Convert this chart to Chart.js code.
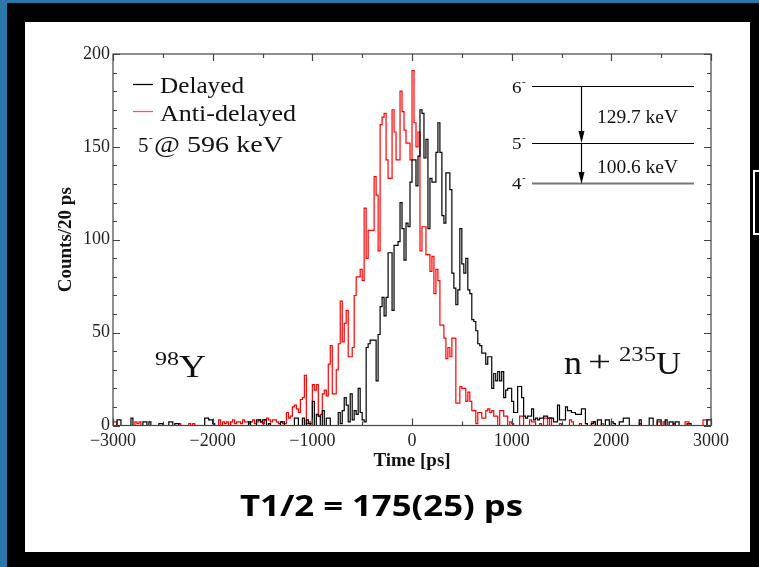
<!DOCTYPE html>
<html>
<head>
<meta charset="utf-8">
<script src="https://cdn.jsdelivr.net/npm/chart.js@4.4.1/dist/chart.umd.min.js"></script>
<style>
  html, body { margin: 0; padding: 0; background: #2a78aa; overflow: hidden; }
  .warm { position: absolute; left: -999px; top: 0; }
</style>
</head>
<body>
<canvas id="timing" width="759" height="567"></canvas>
<div class="warm" style="font-family: 'Liberation Serif'">Delayed 0123</div>
<div class="warm" style="font-family: 'Liberation Serif'; font-weight: bold">Counts</div>
<div class="warm" style="font-family: 'Open Sans'; font-weight: bold">T1/2</div>
<script>
// 20 ps bins from -3000 to 3000 ps
const binWidth = 20;
const timeMin = -3000;
const timeMax = 3000;
const xTicks = [-3000, -2000, -1000, 0, 1000, 2000, 3000];
const yTicks = [0, 50, 100, 150, 200];

// counts per bin
const delayed = [
  0,0,3,3,0,0,0,0,0,4,  0,0,0,0,0,2,2,0,2,0,  0,0,0,1,1,0,0,0,2,2,  0,1,1,0,0,0,0,0,0,0,
  0,0,0,0,0,0,4,4,3,3,  1,0,0,0,0,0,0,0,0,0,  0,0,0,0,0,0,0,0,2,0,  0,0,3,3,2,3,3,0,1,0,
  0,0,0,0,2,2,0,0,0,0,  0,4,4,0,0,4,0,3,1,0,  13,0,6,5,0,8,0,4,4,0,  0,0,0,7,1,8,15,11,2,17,
  3,8,6,20,7,3,2,42,44,46,  46,46,24,49,64,69,59,69,93,93,  62,97,97,99,120,106,89,109,107,131,
  143,143,129,145,170,168,144,154,106,133,  131,131,147,163,147,113,109,136,136,127,
  82,74,65,73,106,87,82,90,73,71,  57,56,51,44,43,39,39,33,37,37,  20,28,24,29,24,29,15,19,20,20,
  13,7,7,21,21,15,5,4,5,5,  9,3,4,3,4,4,5,5,4,4,  4,2,2,11,3,3,3,10,8,8,  7,7,6,6,6,9,9,1,0,0,
  1,2,0,3,3,0,0,3,3,0,  2,1,0,0,2,2,4,4,4,0,  0,0,0,0,3,0,0,0,0,4,  4,0,0,3,3,0,0,3,0,2,
  2,0,2,2,0,0,0,0,1,1,  0,0,0,0,0,0,0,0,3,3
];
const antiDelayed = [
  2,2,0,0,0,0,0,0,0,0,  0,2,1,2,0,0,0,0,0,0,  0,0,0,0,0,0,0,0,0,0,  0,0,0,1,0,0,0,0,1,0,
  1,0,0,0,0,0,0,0,0,0,  0,0,0,3,0,2,1,2,0,2,  3,1,2,2,1,3,2,2,1,2,  3,1,2,3,2,1,3,4,3,2,
  3,3,2,1,2,1,1,7,4,5,  10,11,9,7,14,15,27,1,2,1,  22,19,22,5,6,17,19,16,33,43,
  17,17,30,44,67,45,55,62,37,37,  42,70,80,80,84,78,117,90,105,105,
  105,134,124,94,162,166,168,143,133,133,  170,158,143,143,180,169,159,152,152,143,
  191,163,150,158,94,107,107,92,92,83,  91,71,84,78,54,54,47,36,42,37,
  47,47,12,12,21,20,20,13,18,13,  8,8,1,7,7,4,4,8,9,7,  8,5,5,0,8,8,5,5,0,2,
  1,0,0,0,5,5,0,0,0,3,  2,2,0,0,1,0,4,4,0,4,  0,0,0,0,1,0,0,0,0,3,  2,0,0,0,1,0,0,0,0,0,
  2,2,0,0,0,1,0,0,0,0,  0,0,0,0,0,0,0,0,0,0,  0,0,0,0,1,0,0,0,0,0,  0,0,0,2,2,0,2,0,0,0,
  0,1,0,0,0,0,0,2,2,0,  0,0,0,0,0,0,3,3,0,0
];

// histogram outline: one point per bin left edge plus the closing edge
const toPoints = (counts) => {
  const pts = counts.map((c, i) => ({ x: timeMin + i * binWidth, y: c }));
  pts.push({ x: timeMax, y: counts[counts.length - 1] });
  return pts;
};

const serif = "'Liberation Serif', serif";

// draw text, stretched horizontally like the original scan
const label = (ctx, text, x, y, size, opts = {}) => {
  ctx.save();
  ctx.font = `${opts.bold ? 'bold ' : ''}${size}px ${opts.family || serif}`;
  ctx.fillStyle = opts.color || '#111';
  ctx.textBaseline = 'alphabetic';
  ctx.textAlign = 'left';
  const w = ctx.measureText(text).width;
  const sx = opts.width ? opts.width / w : (opts.stretch || 1.12);
  ctx.translate(x, y);
  ctx.scale(sx, 1);
  ctx.fillText(text, 0, 0);
  ctx.restore();
  return x + w * sx;
};

const page = {
  id: 'page',
  beforeDraw(chart) {
    const { ctx, width, height } = chart;
    ctx.save();
    ctx.fillStyle = '#2a78aa';
    ctx.fillRect(0, 0, width, height);
    ctx.fillStyle = '#000';
    ctx.fillRect(7, 3, width - 7, height - 3);
    ctx.fillStyle = '#fff';
    ctx.fillRect(25, 22, 725, 530);
    // small white bracket at the right edge
    ctx.strokeStyle = '#fff';
    ctx.lineWidth = 2;
    ctx.beginPath();
    ctx.moveTo(759, 171); ctx.lineTo(754, 171); ctx.lineTo(754, 234); ctx.lineTo(759, 234);
    ctx.stroke();
    ctx.restore();
  },
  afterDatasetsDraw(chart) {
    const { ctx, chartArea: a, scales: { x, y } } = chart;
    ctx.save();
    ctx.strokeStyle = '#444';
    ctx.lineWidth = 1.2;
    ctx.strokeRect(a.left, a.top, a.right - a.left, a.bottom - a.top);
    ctx.beginPath();
    for (let v = timeMin; v <= timeMax; v += 500) {
      const px = Math.round(x.getPixelForValue(v)) + 0.5;
      const len = v % 1000 === 0 ? 7 : 4;
      ctx.moveTo(px, a.bottom); ctx.lineTo(px, a.bottom - len);
      ctx.moveTo(px, a.top); ctx.lineTo(px, a.top + len);
    }
    for (let v = 0; v <= 200; v += 10) {
      const py = Math.round(y.getPixelForValue(v)) + 0.5;
      const len = v % 50 === 0 ? 7 : 4;
      ctx.moveTo(a.left, py); ctx.lineTo(a.left + len, py);
      ctx.moveTo(a.right, py); ctx.lineTo(a.right - len, py);
    }
    ctx.stroke();
    ctx.restore();
  },
  afterDraw(chart) {
    const { ctx } = chart;
    const ds = chart.data.datasets;

    // legend inside the frame
    ctx.save();
    ctx.lineWidth = 1.3;
    ctx.strokeStyle = ds[0].borderColor;
    ctx.beginPath(); ctx.moveTo(133, 84.5); ctx.lineTo(153, 84.5); ctx.stroke();
    ctx.strokeStyle = '#ff5555';
    ctx.beginPath(); ctx.moveTo(133, 111.5); ctx.lineTo(153, 111.5); ctx.stroke();
    ctx.restore();
    label(ctx, ds[0].label, 160, 92.5, 23, { width: 84 });
    label(ctx, ds[1].label, 160, 121, 23, { width: 136 });
    label(ctx, '5', 138, 151.5, 21, { stretch: 1 });
    label(ctx, '-', 149, 141, 11, { stretch: 1 });
    label(ctx, '@ 596 keV', 154, 151.5, 23, { width: 129 });

    // level scheme
    ctx.save();
    ctx.strokeStyle = '#000';
    ctx.lineWidth = 1.2;
    ctx.beginPath();
    ctx.moveTo(532, 86.5); ctx.lineTo(694, 86.5);
    ctx.moveTo(532, 143.5); ctx.lineTo(694, 143.5);
    ctx.moveTo(581.5, 87); ctx.lineTo(581.5, 134);
    ctx.moveTo(581.5, 144); ctx.lineTo(581.5, 174);
    ctx.stroke();
    ctx.strokeStyle = '#777';
    ctx.lineWidth = 1.8;
    ctx.beginPath(); ctx.moveTo(532, 183.5); ctx.lineTo(694, 183.5); ctx.stroke();
    ctx.fillStyle = '#000';
    ctx.beginPath(); ctx.moveTo(578.5, 131); ctx.lineTo(584.5, 131); ctx.lineTo(581.5, 143); ctx.closePath(); ctx.fill();
    ctx.beginPath(); ctx.moveTo(578.5, 172); ctx.lineTo(584.5, 172); ctx.lineTo(581.5, 184); ctx.closePath(); ctx.fill();
    ctx.restore();
    const levels = [['6', 92.7], ['5', 149.3], ['4', 188.5]];
    levels.forEach(([spin, base]) => {
      label(ctx, spin, 512, base, 17);
      label(ctx, '-', 522, base - 8, 10);
    });
    label(ctx, '129.7 keV', 597, 122.7, 19, { width: 81 });
    label(ctx, '100.6 keV', 597, 172.7, 19, { width: 81 });

    // nucleus labels
    label(ctx, '98', 155, 365, 19, { width: 24 });
    label(ctx, 'Y', 179, 377, 32, { width: 27 });
    label(ctx, 'n', 564, 374, 34, { width: 18 });
    label(ctx, '+', 588, 371, 30, { width: 23 });
    label(ctx, '235', 619, 361, 20, { width: 37 });
    label(ctx, 'U', 656, 374, 32, { width: 25 });

    // half-life
    label(ctx, 'T1/2 = 175(25) ps', 240, 516, 29,
      { bold: true, family: "'Open Sans', sans-serif", color: '#000', width: 283 });
  }
};

const tickFont = { family: serif, size: 18 };

const draw = () => new Chart(document.getElementById('timing'), {
  type: 'line',
  data: {
    datasets: [
      {
        label: 'Delayed',
        data: toPoints(delayed),
        borderColor: '#000000',
        borderWidth: 1.2,
        stepped: 'before',
        pointRadius: 0,
        fill: false,
      },
      {
        label: 'Anti-delayed',
        data: toPoints(antiDelayed),
        borderColor: '#ff0000',
        borderWidth: 1.2,
        stepped: 'before',
        pointRadius: 0,
        fill: false,
      },
    ],
  },
  options: {
    responsive: false,
    animation: false,
    devicePixelRatio: 1,
    layout: { padding: { left: 0, right: 48, top: 54, bottom: 81.5 } },
    plugins: { legend: { display: false }, tooltip: { enabled: false } },
    scales: {
      x: {
        type: 'linear',
        min: timeMin,
        max: timeMax,
        afterBuildTicks: (s) => { s.ticks = xTicks.map((v) => ({ value: v })); },
        afterFit: (s) => { s.height = 60; },
        grid: { display: false, drawTicks: false },
        border: { display: false },
        ticks: {
          font: tickFont,
          color: '#222',
          padding: 5,
          maxRotation: 0,
          callback: (v) => (v < 0 ? '\u2212' + Math.abs(v) : String(v)),
        },
        title: {
          display: true,
          text: 'Time [ps]',
          color: '#111',
          font: { family: serif, size: 19, weight: 'bold' },
          padding: { top: 0, bottom: 13 },
        },
      },
      y: {
        min: 0,
        max: 200,
        afterBuildTicks: (s) => { s.ticks = yTicks.map((v) => ({ value: v })); },
        afterFit: (s) => { s.width = 113; },
        grid: { display: false, drawTicks: false },
        border: { display: false },
        ticks: { font: tickFont, color: '#222', padding: 3 },
        title: {
          display: true,
          text: 'Counts/20 ps',
          color: '#111',
          font: { family: serif, size: 19, weight: 'bold' },
          padding: { top: 55, bottom: 0 },
        },
      },
    },
  },
  plugins: [page],
});

Promise.all([
  document.fonts.load("18px 'Liberation Serif'"),
  document.fonts.load("bold 19px 'Liberation Serif'"),
  document.fonts.load("bold 29px 'Open Sans'"),
]).then(draw, draw);
</script>
</body>
</html>
